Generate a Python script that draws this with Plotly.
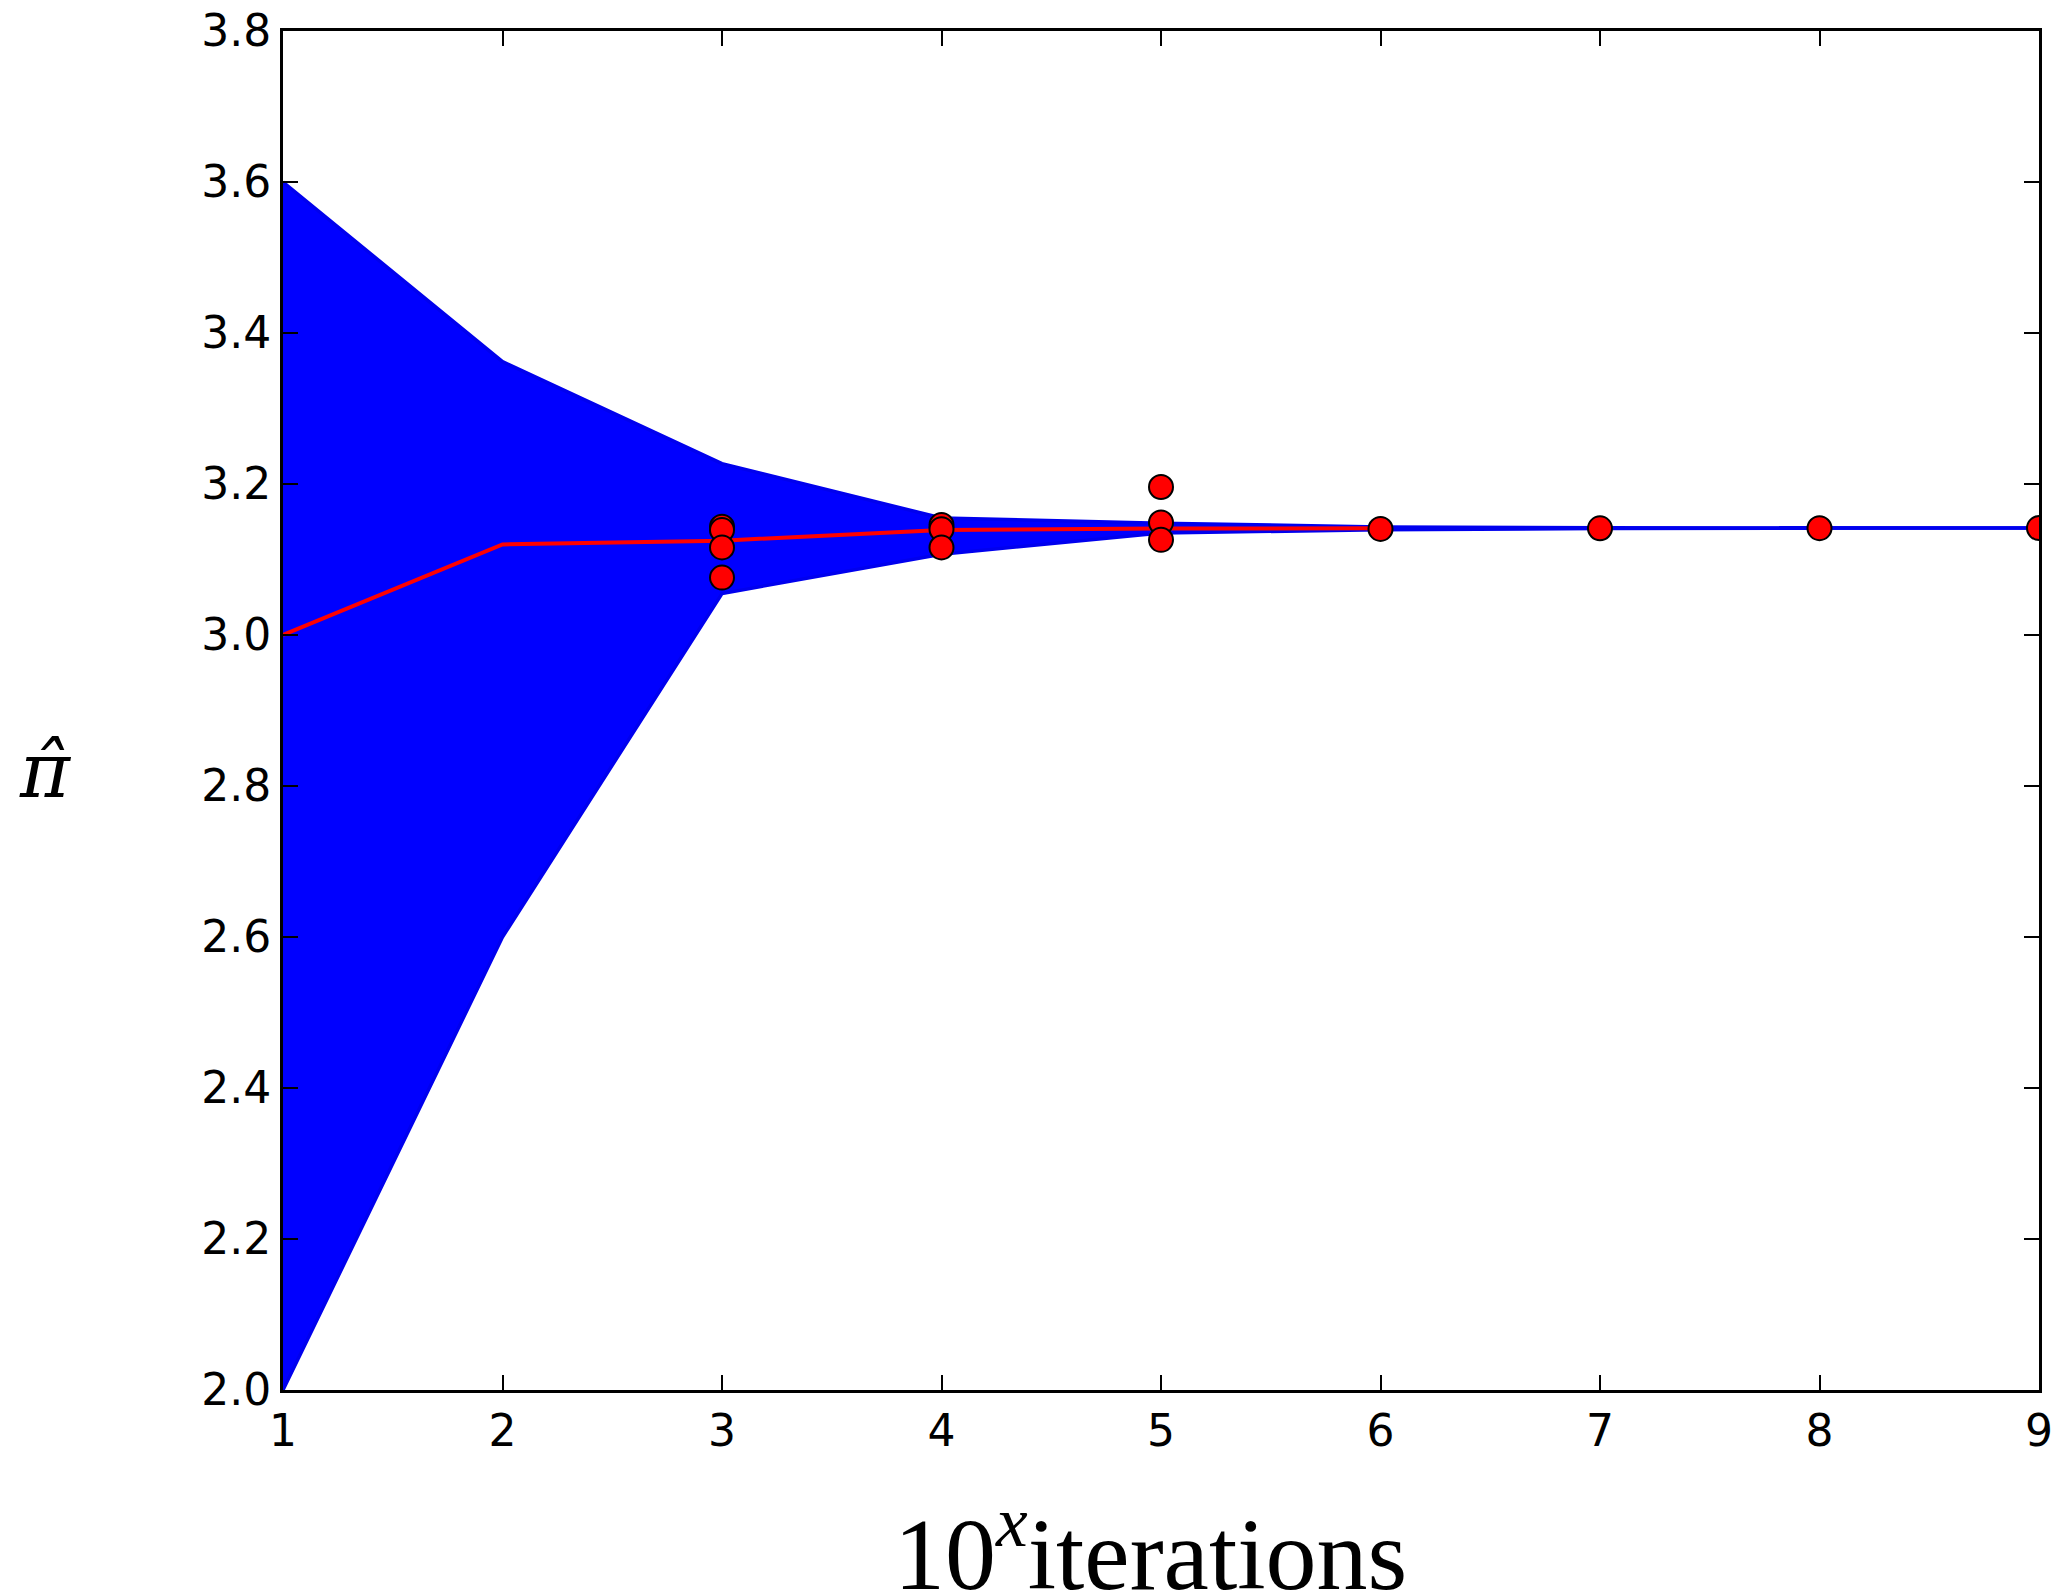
import plotly.graph_objects as go

# ---- data ----
x_iter = [1, 2, 3, 4, 5, 6, 7, 8, 9]
band_upper = [3.600, 3.362, 3.227, 3.155, 3.148, 3.1432, 3.1421, 3.1417, 3.1416]
band_lower = [2.000, 2.600, 3.055, 3.107, 3.135, 3.1395, 3.1411, 3.1415, 3.1416]

mean_x = [1, 2, 3, 4, 5, 6]
mean_y = [3.000, 3.120, 3.125, 3.139, 3.141, 3.1414]

pts_x = [3, 3, 3, 3, 4, 4, 4, 5, 5, 5, 6, 7, 8, 9]
pts_y = [3.1435, 3.139, 3.116, 3.076, 3.1457, 3.140, 3.116, 3.196, 3.149, 3.126, 3.1405, 3.1413, 3.1415, 3.1416]

x_ticks = [1, 2, 3, 4, 5, 6, 7, 8, 9]
y_ticks = [2.0, 2.2, 2.4, 2.6, 2.8, 3.0, 3.2, 3.4, 3.6, 3.8]

fig = go.Figure()
fig.add_trace(go.Scatter(x=x_iter, y=band_lower, mode="lines",
                         line=dict(color="#0000ee", width=3.5), showlegend=False))
fig.add_trace(go.Scatter(x=x_iter, y=band_upper, mode="lines", fill="tonexty",
                         fillcolor="#0000ff", line=dict(color="#0000ee", width=3.5),
                         showlegend=False))
fig.add_trace(go.Scatter(x=mean_x, y=mean_y, mode="lines",
                         line=dict(color="#ff0000", width=4), showlegend=False))
fig.add_trace(go.Scatter(x=pts_x, y=pts_y, mode="markers",
                         marker=dict(color="#ff0000", size=24,
                                     line=dict(color="black", width=2)),
                         showlegend=False))

axis_common = dict(showline=True, linecolor="black", linewidth=3, mirror="ticks",
                   ticks="inside", ticklen=15, tickwidth=1.5, tickcolor="black",
                   showgrid=False, zeroline=False, ticklabeloverflow="allow",
                   automargin=False,
                   tickfont=dict(family="DejaVu Sans", size=44, color="black"))

fig.update_xaxes(range=[1, 9.00001], tickvals=x_ticks, ticktext=[str(v) for v in x_ticks],
                 **axis_common)
fig.update_yaxes(range=[2.0, 3.80001], tickvals=y_ticks,
                 ticktext=[f"{v:.1f}" for v in y_ticks], **axis_common)

fig.add_annotation(text="10<sup><i>x</i></sup>iterations", xref="paper", yref="paper",
                   x=0.494, y=-0.1148, xanchor="center", yanchor="middle",
                   showarrow=False,
                   font=dict(family="Liberation Serif", size=102, color="black"))
fig.add_annotation(text="<i>π̂</i>", xref="paper", yref="paper",
                   x=-0.1355, y=0.456, xanchor="center", yanchor="middle",
                   showarrow=False,
                   font=dict(family="DejaVu Serif", size=76, color="black"))

fig.update_layout(width=2055, height=1587, plot_bgcolor="white", paper_bgcolor="white",
                  margin=dict(l=275, r=24, t=23, b=205, autoexpand=False))

fig.write_html("out.html")
